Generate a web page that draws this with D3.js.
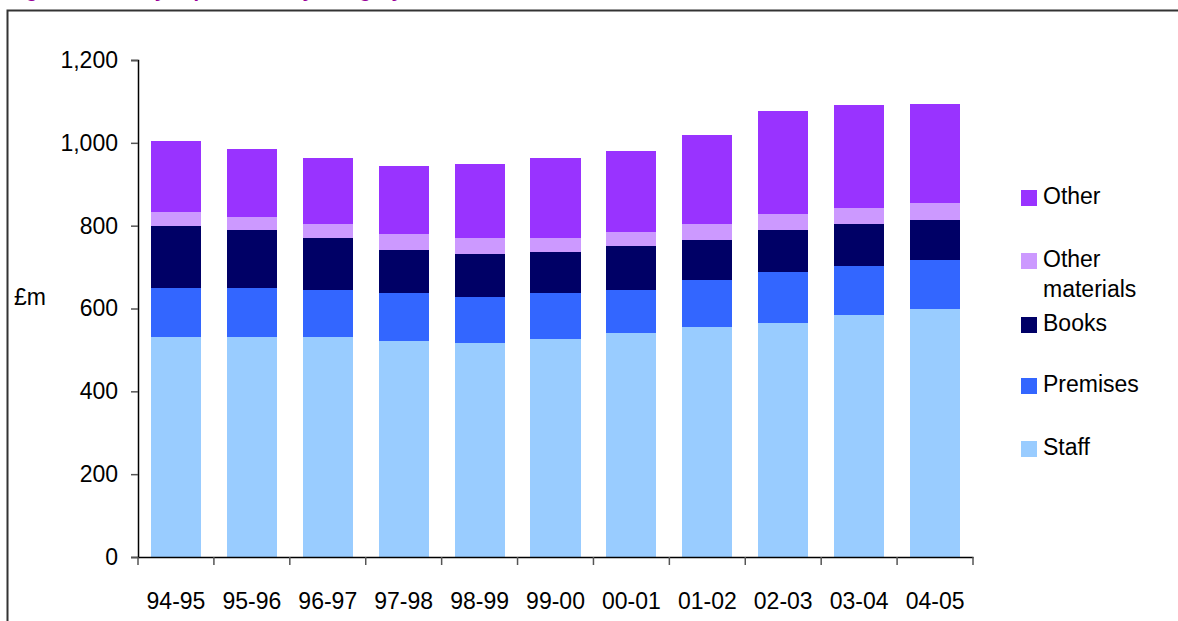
<!DOCTYPE html>
<html>
<head>
<meta charset="utf-8">
<script src="https://cdn.jsdelivr.net/npm/d3@7"></script>
<style>
  body { margin: 0; background: #fff; }
  svg { display: block; font-family: "Liberation Sans", Arial, sans-serif; }
</style>
</head>
<body>
<div id="chart"></div>
<script>
// Library expenditure by category, £m
const years = ["94-95", "95-96", "96-97", "97-98", "98-99", "99-00", "00-01", "01-02", "02-03", "03-04", "04-05"];
const staff = [531, 531, 531, 521, 517, 526, 541, 555, 565, 584, 599];
const premises = [119, 119, 114, 116, 111, 111, 104, 114, 123, 119, 118];
const books = [150, 140, 125, 104, 104, 99, 106, 96, 102, 101, 97];
const otherMaterials = [32, 31, 34, 39, 38, 34, 34, 39, 38, 39, 41];
const other = [173, 164, 159, 164, 179, 193, 195, 215, 249, 248, 239];
const yTicks = [0, 200, 400, 600, 800, 1000, 1200];

const seriesKeys = ["Staff", "Premises", "Books", "Other materials", "Other"];
const colors = {
    "Staff": "#99ccff",
    "Premises": "#3366ff",
    "Books": "#000066",
    "Other materials": "#cc99ff",
    "Other": "#9933ff"
};

// build rows for the stack
const rows = years.map((y, i) => ({
    year: y,
    "Staff": staff[i],
    "Premises": premises[i],
    "Books": books[i],
    "Other materials": otherMaterials[i],
    "Other": other[i]
}));

const width = 1178, height = 621;
const fontSize = "23px";

const svg = d3.select("#chart").append("svg")
    .attr("width", width)
    .attr("height", height);

// title sits above the page edge, only the descenders show
svg.append("text")
    .attr("x", 8)
    .attr("y", -3)
    .style("font-size", "20px")
    .style("font-weight", "bold")
    .style("fill", "#990099")
    .text("Figure 4: Library expenditure by category, 1994-95 to 2004-05");

// frame (top and left only)
svg.append("path")
    .attr("d", "M7.5,621 V10.5 H1178")
    .attr("fill", "none")
    .attr("stroke", "#333")
    .attr("stroke-width", 2);

const x = d3.scaleBand()
    .domain(years)
    .range([138, 973])
    .paddingInner(0.34)
    .paddingOuter(0.17);

const y = d3.scaleLinear()
    .domain([0, 1200])
    .range([557, 60]);

const stacked = d3.stack().keys(seriesKeys)(rows);

// bars
svg.append("g")
    .selectAll("g")
    .data(stacked)
    .join("g")
    .attr("fill", d => colors[d.key])
    .selectAll("rect")
    .data(d => d)
    .join("rect")
    .attr("x", d => x(d.data.year))
    .attr("y", d => y(d[1]))
    .attr("width", x.bandwidth())
    .attr("height", d => y(d[0]) - y(d[1]))
    .attr("shape-rendering", "crispEdges");

// y axis
const yAxis = svg.append("g")
    .attr("transform", "translate(138,0)")
    .call(d3.axisLeft(y).tickValues(yTicks).tickSize(7).tickPadding(13).tickFormat(d3.format(",")));
yAxis.select(".domain").attr("stroke", "#000").attr("stroke-width", 1.5);
yAxis.selectAll(".tick line").attr("stroke", "#555").attr("stroke-width", 1.5);
yAxis.selectAll(".tick text")
    .style("font-size", fontSize)
    .style("font-family", "Liberation Sans, Arial, sans-serif")
    .attr("fill", "#000");

// x axis: labels at band centres, ticks at band boundaries
const xAxis = svg.append("g")
    .attr("transform", "translate(0,557)")
    .call(d3.axisBottom(x).tickSize(0).tickPadding(36).tickSizeOuter(0));
xAxis.select(".domain").attr("stroke", "#000").attr("stroke-width", 1.5);
xAxis.selectAll(".tick text")
    .style("font-size", fontSize)
    .style("font-family", "Liberation Sans, Arial, sans-serif")
    .attr("fill", "#000");

const step = x.step();
const boundaries = d3.range(years.length + 1).map(i => x.range()[0] + i * step);
xAxis.selectAll(".bound")
    .data(boundaries)
    .join("line")
    .attr("class", "bound")
    .attr("x1", d => d).attr("x2", d => d)
    .attr("y1", 0).attr("y2", 8)
    .attr("stroke", "#555")
    .attr("stroke-width", 1.5);

// y axis title
svg.append("text")
    .attr("x", 14)
    .attr("y", 305)
    .style("font-size", fontSize)
    .text("£m");

// legend
const legendItems = [
    { key: "Other", lines: ["Other"], y: 190 },
    { key: "Other materials", lines: ["Other", "materials"], y: 253 },
    { key: "Books", lines: ["Books"], y: 317 },
    { key: "Premises", lines: ["Premises"], y: 378 },
    { key: "Staff", lines: ["Staff"], y: 441 }
];

const legend = svg.append("g").attr("class", "legend");
const item = legend.selectAll("g")
    .data(legendItems)
    .join("g")
    .attr("transform", d => `translate(1021,${d.y})`);

item.append("rect")
    .attr("width", 16)
    .attr("height", 16)
    .attr("fill", d => colors[d.key]);

item.append("text")
    .attr("x", 22)
    .attr("y", 14)
    .style("font-size", fontSize)
    .selectAll("tspan")
    .data(d => d.lines)
    .join("tspan")
    .attr("x", 22)
    .attr("dy", (d, i) => i === 0 ? 0 : 30)
    .text(d => d);
</script>
</body>
</html>
